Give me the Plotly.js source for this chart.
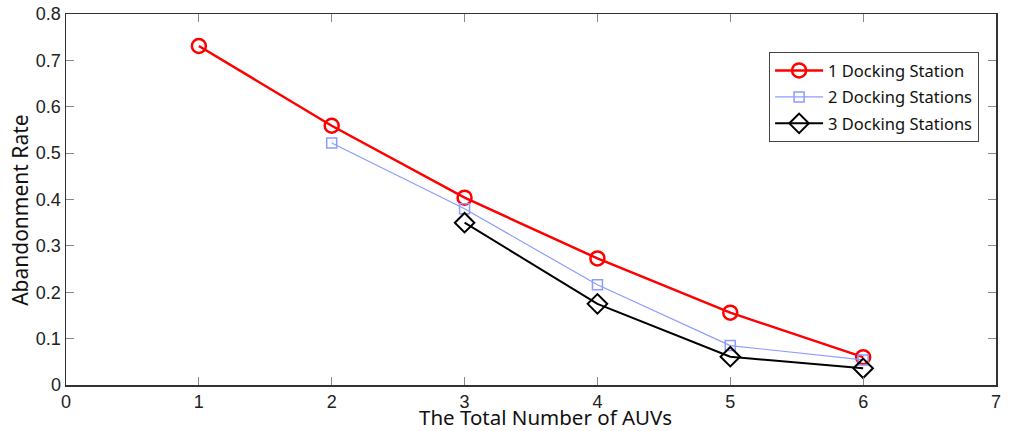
<!DOCTYPE html>
<html>
<head>
<meta charset="utf-8">
<script src="https://cdn.plot.ly/plotly-3.0.1.min.js"></script>
<style>html,body{margin:0;padding:0;background:#fff;}#chart{width:1009px;height:431px;}</style>
</head>
<body>
<div id="chart"></div>
<script>
const auvs1 = [1, 2, 3, 4, 5, 6];
const rate1 = [0.731, 0.559, 0.404, 0.273, 0.156, 0.060];
const auvs2 = [2, 3, 4, 5, 6];
const rate2 = [0.522, 0.380, 0.216, 0.085, 0.054];
const auvs3 = [3, 4, 5, 6];
const rate3 = [0.350, 0.175, 0.061, 0.036];
const seriesNames = ['1 Docking Station', '2 Docking Stations', '3 Docking Stations'];
const xTicks = [0, 1, 2, 3, 4, 5, 6, 7];
const yTicks = [0, 0.1, 0.2, 0.3, 0.4, 0.5, 0.6, 0.7, 0.8];
const yTickText = ['0', '0.1', '0.2', '0.3', '0.4', '0.5', '0.6', '0.7', '0.8'];
const xTitle = 'The Total Number of AUVs';
const yTitle = 'Abandonment Rate';

const titleFont = {family: 'Noto Sans, DejaVu Sans, sans-serif', size: 21, color: '#111'};
const xTitleFont = {family: 'Noto Sans, DejaVu Sans, sans-serif', size: 20.5, color: '#111'};
const tickFont = {family: 'Liberation Sans, Arial, sans-serif', size: 18, color: '#222'};

const traces = [
  {x: auvs1, y: rate1, name: seriesNames[0], legendgroup: 'a', mode: 'lines+markers', type: 'scatter',
   line: {color: '#ff0000', width: 2.5},
   marker: {symbol: 'circle-open', size: 14, color: '#ff0000', line: {width: 2.5, color: '#ff0000'}}},
  {x: auvs2, y: rate2, name: seriesNames[1], legendgroup: 'b', mode: 'lines+markers', type: 'scatter',
   line: {color: '#8c9cff', width: 1.2},
   marker: {symbol: 'square-open', size: 10, color: '#8c9cff', line: {width: 1.5, color: '#8c9cff'}}},
  {x: auvs3, y: rate3, name: seriesNames[2], legendgroup: 'c', mode: 'lines+markers', type: 'scatter',
   line: {color: '#000000', width: 2},
   marker: {symbol: 'diamond-open', size: 15, color: '#000000', line: {width: 2, color: '#000000'}}}
];

const layout = {
  width: 1009, height: 431,
  margin: {l: 66, r: 13, t: 14, b: 46, pad: 0},
  paper_bgcolor: '#fff', plot_bgcolor: '#fff',
  showlegend: true,
  legend: {x: 0.756, y: 0.897, xanchor: 'left', yanchor: 'top',
    bgcolor: '#fff', bordercolor: '#444', borderwidth: 1,
    font: {family: 'Noto Sans, DejaVu Sans, sans-serif', size: 16.5, color: '#111'},
    traceorder: 'grouped', tracegroupgap: 2, itemwidth: 48},
  xaxis: {range: [0, 7], tickmode: 'array', tickvals: xTicks, ticktext: xTicks.map(String),
    ticks: 'inside', ticklen: 8, tickcolor: '#888', tickwidth: 1,
    showline: true, linecolor: '#333', linewidth: 1.5, mirror: 'ticks',
    showgrid: false, zeroline: false, tickfont: tickFont},
  yaxis: {range: [0, 0.8], tickmode: 'array', tickvals: yTicks, ticktext: yTickText,
    ticks: 'inside', ticklen: 8, tickcolor: '#888', tickwidth: 1,
    showline: true, linecolor: '#333', linewidth: 1.5, mirror: 'ticks',
    showgrid: false, zeroline: false, tickfont: tickFont},
  annotations: [
    {text: xTitle, xref: 'paper', yref: 'paper', x: 0.516, y: -0.087,
     xanchor: 'center', yanchor: 'middle', showarrow: false, font: xTitleFont},
    {text: yTitle, xref: 'paper', yref: 'paper', x: -0.0495, y: 0.472, textangle: -90,
     xanchor: 'center', yanchor: 'middle', showarrow: false, font: titleFont}
  ]
};

Plotly.newPlot('chart', traces, layout, {displayModeBar: false, staticPlot: true});
</script>
</body>
</html>
